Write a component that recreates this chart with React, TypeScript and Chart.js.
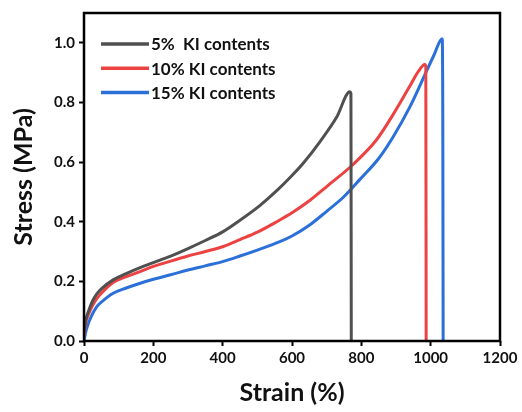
import React, { useEffect, useRef } from "react";
import { Chart, registerables } from "chart.js";

Chart.register(...registerables);

const seriesLabels = ["5%  KI contents", "10% KI contents", "15% KI contents"];
const seriesColors = ["#505050", "#ec4242", "#2b6fd9"];

const strain5 = [0, 5, 13, 25, 37, 50, 84, 120, 160, 200, 250, 300, 350, 400, 450, 508, 556, 600, 633, 681, 729, 767, 770, 771];
const stress5 = [0.03, 0.07, 0.1, 0.135, 0.158, 0.175, 0.205, 0.225, 0.245, 0.263, 0.285, 0.31, 0.337, 0.366, 0.405, 0.455, 0.504, 0.555, 0.597, 0.669, 0.751, 0.836, 0.83, 0];

const strain10 = [0, 5, 13, 25, 37, 50, 84, 120, 160, 200, 250, 300, 350, 402, 450, 500, 556, 600, 652, 700, 776, 844, 892, 940, 965, 983, 986, 987];
const stress10 = [0.02, 0.06, 0.09, 0.12, 0.142, 0.16, 0.196, 0.215, 0.232, 0.25, 0.268, 0.285, 0.3, 0.317, 0.34, 0.365, 0.4, 0.43, 0.472, 0.518, 0.592, 0.675, 0.76, 0.855, 0.905, 0.927, 0.92, 0];

const strain15 = [0, 5, 10, 20, 37, 50, 84, 120, 160, 200, 250, 300, 350, 402, 450, 500, 565, 600, 652, 700, 748, 796, 850, 892, 940, 988, 1010, 1033, 1035, 1036];
const stress15 = [0, 0.03, 0.05, 0.08, 0.115, 0.13, 0.16, 0.177, 0.193, 0.207, 0.222, 0.238, 0.252, 0.267, 0.285, 0.305, 0.333, 0.352, 0.39, 0.435, 0.482, 0.542, 0.612, 0.685, 0.785, 0.905, 0.96, 1.014, 0.75, 0];

const xTicksMax = 1200;
const yTicksMax = 1.1;

const FONT = "Lato, 'Open Sans', sans-serif";

function toPoints(xs: number[], ys: number[]) {
  return xs.map((x, i) => ({ x, y: ys[i] }));
}

const framePlugin = {
  id: "frame",
  afterDatasetsDraw(chart: any) {
    const { ctx, chartArea } = chart;
    ctx.save();
    ctx.strokeStyle = "#000";
    ctx.lineWidth = 2.5;
    ctx.strokeRect(chartArea.left, chartArea.top, chartArea.right - chartArea.left, chartArea.bottom - chartArea.top);
    ctx.restore();
  },
};

const legendPlugin = {
  id: "insideLegend",
  afterDraw(chart: any) {
    const { ctx } = chart;
    ctx.save();
    const x0 = 101;
    const x1 = 149;
    const ys = [44, 68.3, 92.6];
    chart.data.datasets.forEach((ds: any, i: number) => {
      ctx.strokeStyle = ds.borderColor;
      ctx.lineWidth = 3.5;
      ctx.beginPath();
      ctx.moveTo(x0, ys[i]);
      ctx.lineTo(x1, ys[i]);
      ctx.stroke();
      ctx.fillStyle = "#111";
      ctx.font = `bold 17px ${FONT}`;
      ctx.textBaseline = "middle";
      ctx.textAlign = "left";
      ctx.fillText(ds.label, x1 + 2, ys[i] + 1);
    });
    ctx.restore();
  },
};

export default function App() {
  const ref = useRef<HTMLCanvasElement | null>(null);
  useEffect(() => {
    if (!ref.current) return;
    const chart = new Chart(ref.current, {
      type: "scatter",
      data: {
        datasets: [
          { label: seriesLabels[0], data: toPoints(strain5, stress5), borderColor: seriesColors[0] },
          { label: seriesLabels[1], data: toPoints(strain10, stress10), borderColor: seriesColors[1] },
          { label: seriesLabels[2], data: toPoints(strain15, stress15), borderColor: seriesColors[2] },
        ].map((d) => ({
          ...d,
          showLine: true,
          pointRadius: 0,
          borderWidth: 3,
          cubicInterpolationMode: "monotone" as const,
          backgroundColor: d.borderColor,
        })),
      },
      options: {
        responsive: false,
        animation: false,
        layout: { padding: { top: 8, right: 22, left: 0, bottom: 0 } },
        plugins: { legend: { display: false }, tooltip: { enabled: false } },
        scales: {
          x: {
            type: "linear",
            min: 0,
            max: xTicksMax,
            afterFit: (s: any) => {
              s.height = 71;
            },
            ticks: {
              stepSize: 200,
              color: "#111",
              font: { family: FONT, size: 15, weight: "bold" },
              padding: 3,
              callback: (v: any) => String(v),
            },
            grid: { drawOnChartArea: false, drawTicks: true, tickLength: 5, tickColor: "#000", tickWidth: 2 },
            border: { display: false },
            title: {
              display: true,
              text: "Strain (%)",
              color: "#111",
              font: { family: FONT, size: 25, weight: "bold" },
              padding: { top: 0, bottom: 4 },
            },
          },
          y: {
            type: "linear",
            min: 0,
            max: yTicksMax,
            afterFit: (s: any) => {
              s.width = 84;
            },
            afterBuildTicks: (s: any) => {
              s.ticks = s.ticks.filter((t: any) => t.value <= 1.0001);
            },
            ticks: {
              stepSize: 0.2,
              color: "#111",
              font: { family: FONT, size: 15, weight: "bold" },
              padding: 4,
              callback: (v: any) => Number(v).toFixed(1),
            },
            grid: { drawOnChartArea: false, drawTicks: true, tickLength: 5, tickColor: "#000", tickWidth: 2 },
            border: { display: false },
            title: {
              display: true,
              text: "Stress (MPa)",
              color: "#111",
              font: { family: FONT, size: 25, weight: "bold" },
              padding: { top: 9, bottom: 0 },
            },
          },
        },
      },
      plugins: [framePlugin, legendPlugin],
    });
    return () => chart.destroy();
  }, []);
  return (
    <div style={{ position: "fixed", left: 0, top: 0, width: 522, height: 412, background: "#fff" }}>
      <canvas ref={ref} width={522} height={412} style={{ display: "block" }} />
    </div>
  );
}
